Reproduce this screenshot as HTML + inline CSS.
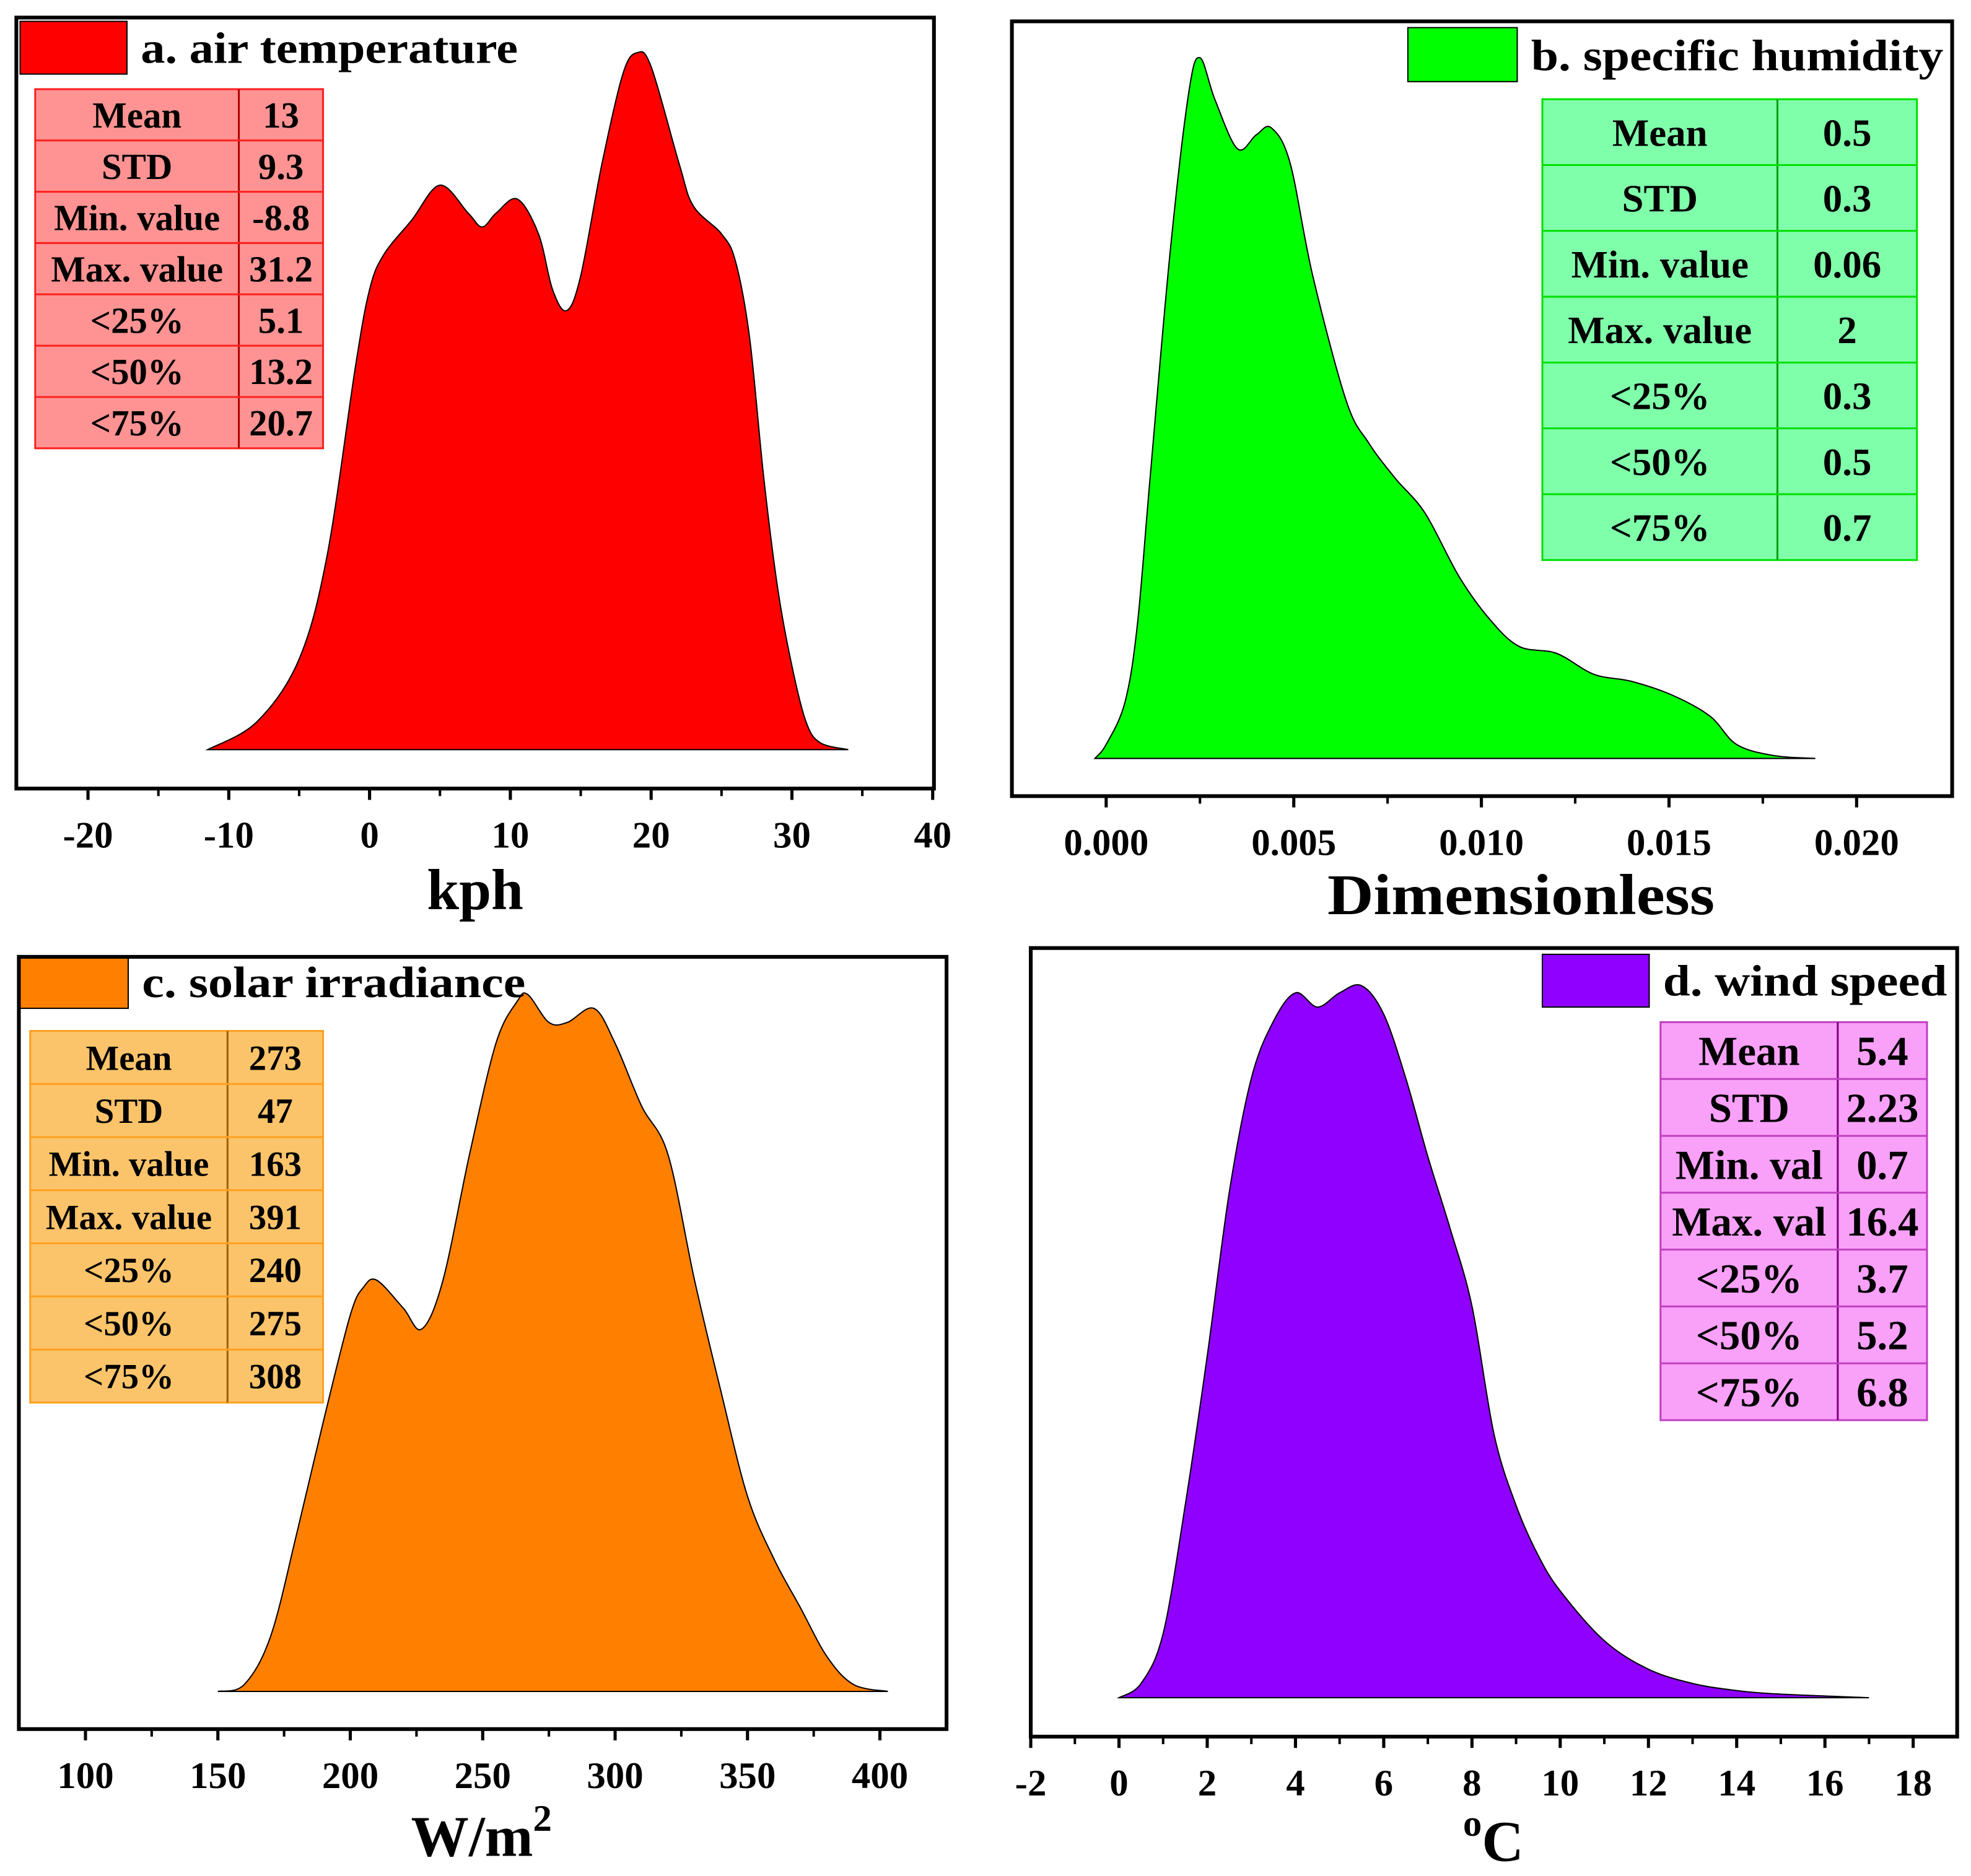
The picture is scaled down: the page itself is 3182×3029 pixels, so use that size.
<!DOCTYPE html>
<html><head><meta charset="utf-8">
<style>
html,body{margin:0;padding:0;background:#fff;}
svg{display:block;}
text{font-family:"Liberation Serif",serif;font-weight:bold;fill:#000;}
</style></head>
<body>
<svg id="fig" width="3182" height="3029" viewBox="0 0 1568 1494" preserveAspectRatio="none" xmlns="http://www.w3.org/2000/svg"></svg>
<script>
// ---- data ----
const aX = [-11.5,-8,-5,-3,-1,0,1,3,5,7,8,9,10.5,12,13,14,15,16.5,18,19,20,22,23,25,26,27,28,29,30,31,32,34];
const aD = [0,.04,.13,.28,.55,.66,.71,.76,.81,.77,.75,.77,.79,.74,.66,.63,.68,.84,.97,1,.98,.84,.78,.74,.70,.59,.39,.23,.12,.04,.01,0];
const aTicks = [-20,-10,0,10,20,30,40];
const aTickLabels = ["-20","-10","0","10","20","30","40"];
const aStatNames = ["Mean","STD","Min. value","Max. value","<25%","<50%","<75%"];
const aStatVals = ["13","9.3","-8.8","31.2","5.1","13.2","20.7"];

const bX = [-0.0003,0,0.0005,0.00083,0.00117,0.0017,0.0022,0.0025,0.0029,0.0035,0.004,0.0044,0.0049,0.0055,0.0064,0.007,0.0077,0.0085,0.0094,0.0102,0.011,0.012,0.013,0.014,0.0151,0.0161,0.0168,0.0178,0.0189];
const bD = [0,.02,.08,.19,.40,.72,.95,1,.94,.87,.89,.90,.85,.69,.51,.45,.40,.35,.26,.20,.16,.15,.12,.11,.09,.06,.02,.004,0];
const bTicks = [0,0.005,0.01,0.015,0.02];
const bTickLabels = ["0.000","0.005","0.010","0.015","0.020"];
const bStatNames = ["Mean","STD","Min. value","Max. value","<25%","<50%","<75%"];
const bStatVals = ["0.5","0.3","0.06","2","0.3","0.5","0.7"];

const cX = [150,160,170,180,190,200,205,210,220,227,235,245,255,263,267,275,282,292,300,310,320,330,340,350,360,370,380,390,403];
const cD = [0,.01,.08,.23,.39,.54,.58,.59,.55,.52,.59,.77,.93,.99,1,.96,.96,.98,.93,.84,.77,.59,.43,.28,.19,.12,.05,.01,0];
const cTicks = [100,150,200,250,300,350,400];
const cTickLabels = ["100","150","200","250","300","350","400"];
const cStatNames = ["Mean","STD","Min. value","Max. value","<25%","<50%","<75%"];
const cStatVals = ["273","47","163","391","240","275","308"];

const dX = [0,.5,1,1.5,2,2.5,3,3.5,4,4.5,5,5.5,6,6.5,7,7.5,8,8.5,9,9.5,10,11,12,13,14,15,17];
const dD = [0,.02,.09,.27,.48,.71,.87,.95,.99,.97,.99,1,.96,.87,.76,.66,.55,.37,.27,.20,.15,.08,.04,.02,.01,.005,0];
const dTicks = [-2,0,2,4,6,8,10,12,14,16,18];
const dTickLabels = ["-2","0","2","4","6","8","10","12","14","16","18"];
const dStatNames = ["Mean","STD","Min. val","Max. val","<25%","<50%","<75%"];
const dStatVals = ["5.4","2.23","0.7","16.4","3.7","5.2","6.8"];

const NS = "http://www.w3.org/2000/svg";
const svg = document.getElementById('fig');
function mk(tag, attrs, parent){
  const e = document.createElementNS(NS, tag);
  for (const k in attrs) e.setAttribute(k, attrs[k]);
  (parent||svg).appendChild(e);
  return e;
}
function smooth(pts){
  let d = "M"+pts[0][0]+","+pts[0][1];
  for (let i=0;i<pts.length-1;i++){
    const p0=pts[Math.max(0,i-1)], p1=pts[i], p2=pts[i+1], p3=pts[Math.min(pts.length-1,i+2)];
    const c1x=p1[0]+(p2[0]-p0[0])/6, c1y=p1[1]+(p2[1]-p0[1])/6;
    const c2x=p2[0]-(p3[0]-p1[0])/6, c2y=p2[1]-(p3[1]-p1[1])/6;
    d += " C"+c1x+","+c1y+" "+c2x+","+c2y+" "+p2[0]+","+p2[1];
  }
  return d;
}
function panel(cfg){
  const g = mk('g',{});
  
  
  const sx = v => cfg.px0 + (v-cfg.v0)/(cfg.v1-cfg.v0)*(cfg.px1-cfg.px0);
  const sy = v => cfg.base - v*(cfg.base-cfg.peak);
  const pts = cfg.xs.map((x,i)=>[sx(x), sy(cfg.ds[i])]);
  const area = mk('path',{d: smooth(pts)+" Z", fill: cfg.color, stroke:"#000", "stroke-width":1}, g);
  
  
  const fr = mk('rect',{x:cfg.fx0,y:cfg.fy0,width:cfg.fx1-cfg.fx0,height:cfg.fy1-cfg.fy0,fill:"none",stroke:"#000","stroke-width":3}, g);
  
  
  cfg.ticks.forEach((t,i)=>{
    const x = sx(t);
    const tk = mk('line',{x1:x,x2:x,y1:cfg.fy1,y2:cfg.fy1+9,stroke:"#000","stroke-width":2.5}, g);
    
    
    const lb = mk('text',{x:x,y:cfg.fy1+47,"text-anchor":"middle","font-size":30}, g);
    lb.textContent = cfg.tickLabels[i];
    
    
    if (i < cfg.ticks.length-1){
      const xm = sx((t+cfg.ticks[i+1])/2);
      const mn = mk('line',{x1:xm,x2:xm,y1:cfg.fy1,y2:cfg.fy1+6,stroke:"#000","stroke-width":2}, g);
      
      
    }
  });
  const atAttrs = {x:cfg.titleX,y:cfg.titleY,"text-anchor":"middle","font-size":46};
  if (cfg.titleLen){ atAttrs.textLength = cfg.titleLen; atAttrs.lengthAdjust = "spacingAndGlyphs"; }
  const at = mk('text',atAttrs, g);
  
  
  if (cfg.sup){
    if (cfg.supFirst){
      const s = mk('tspan',{"font-size":30,dy:-20},at); s.textContent = cfg.sup;
      const m = mk('tspan',{dy:20},at); m.textContent = cfg.title;
    } else {
      const m = mk('tspan',{},at); m.textContent = cfg.title;
      const s = mk('tspan',{"font-size":30,dy:-20},at); s.textContent = cfg.sup;
    }
  } else at.textContent = cfg.title;
  const lr = mk('rect',{x:cfg.lx,y:cfg.ly,width:cfg.lw,height:cfg.lh,fill:cfg.color,stroke:"#000","stroke-width":1}, g);
  
  
  const lt = mk('text',{x:cfg.lx+cfg.lw+11,y:cfg.ly+cfg.lh-9,"font-size":35,textLength:cfg.legLen,lengthAdjust:"spacingAndGlyphs"}, g);
  lt.textContent = cfg.legend;
  
  
  const tg = mk('g',{}, g);
  
  
  const rh = (cfg.ty1-cfg.ty0)/cfg.names.length;
  mk('rect',{x:cfg.tx0,y:cfg.ty0,width:cfg.tx1-cfg.tx0,height:cfg.ty1-cfg.ty0,fill:cfg.tfill,stroke:cfg.tline,"stroke-width":1.5}, tg);
  mk('line',{x1:cfg.tsplit,x2:cfg.tsplit,y1:cfg.ty0,y2:cfg.ty1,stroke:cfg.tline2,"stroke-width":1.5}, tg);
  cfg.names.forEach((n,i)=>{
    const y = cfg.ty0 + rh*i;
    if (i>0) mk('line',{x1:cfg.tx0,x2:cfg.tx1,y1:y,y2:y,stroke:cfg.tline,"stroke-width":1.5}, tg);
    const t1 = mk('text',{x:(cfg.tx0+cfg.tsplit)/2,y:y+rh/2+cfg.tfs*0.35,"text-anchor":"middle","font-size":cfg.tfs}, tg);
    t1.textContent = n;
    
    
    const t2 = mk('text',{x:(cfg.tsplit+cfg.tx1)/2,y:y+rh/2+cfg.tfs*0.35,"text-anchor":"middle","font-size":cfg.tfs}, tg);
    t2.textContent = cfg.vals[i];
    
    
  });
}
panel({id:'air-temperature', xs:aX, ds:aD, ticks:aTicks, tickLabels:aTickLabels, names:aStatNames, vals:aStatVals,
  color:"#ff0000", v0:-20, v1:40, px0:70, px1:742, base:597, peak:42,
  fx0:13, fy0:14, fx1:743, fy1:628, title:"kph", titleX:378, titleY:724,
  lx:16, ly:17, lw:85, lh:42, legend:"a. air temperature", legLen:300,
  tx0:28, ty0:71, tx1:257, ty1:357, tsplit:190, tfill:"#ff9393", tline:"#ff2020", tline2:"#b00000", tfs:29});
panel({id:'specific-humidity', xs:bX, ds:bD, ticks:bTicks, tickLabels:bTickLabels, names:bStatNames, vals:bStatVals,
  color:"#00ff00", v0:0, v1:0.02, px0:880, px1:1477, base:604, peak:46,
  fx0:805, fy0:17, fx1:1553, fy1:634, title:"Dimensionless", titleX:1210, titleY:728, titleLen:308,
  lx:1120, ly:22, lw:87, lh:43, legend:"b. specific humidity", legLen:328,
  tx0:1227, ty0:79, tx1:1525, ty1:446, tsplit:1414, tfill:"#80ffaa", tline:"#00e000", tline2:"#00a000", tfs:31});
panel({id:'solar-irradiance', xs:cX, ds:cD, ticks:cTicks, tickLabels:cTickLabels, names:cStatNames, vals:cStatVals,
  color:"#ff8000", v0:100, v1:400, px0:68, px1:700, base:1347, peak:792,
  fx0:15, fy0:762, fx1:753, fy1:1377, title:"W/m", sup:"2", titleX:383, titleY:1478,
  lx:16, ly:763, lw:86, lh:40, legend:"c. solar irradiance", legLen:305,
  tx0:24, ty0:821, tx1:257, ty1:1117, tsplit:181, tfill:"#fcc46a", tline:"#ffa020", tline2:"#a06000", tfs:28});
panel({id:'wind-speed', xs:dX, ds:dD, ticks:dTicks, tickLabels:dTickLabels, names:dStatNames, vals:dStatVals,
  color:"#8f00ff", v0:-2, v1:18, px0:820, px1:1522, base:1352, peak:785,
  fx0:820, fy0:755, fx1:1557, fy1:1383, title:"C", sup:"o", supFirst:true, titleX:1188, titleY:1482,
  lx:1227, ly:760, lw:85, lh:42, legend:"d. wind speed", legLen:226,
  tx0:1321, ty0:814, tx1:1533, ty1:1131, tsplit:1462, tfill:"#f9a0f9", tline:"#c040c0", tline2:"#800080", tfs:33});
</script>
</body></html>
